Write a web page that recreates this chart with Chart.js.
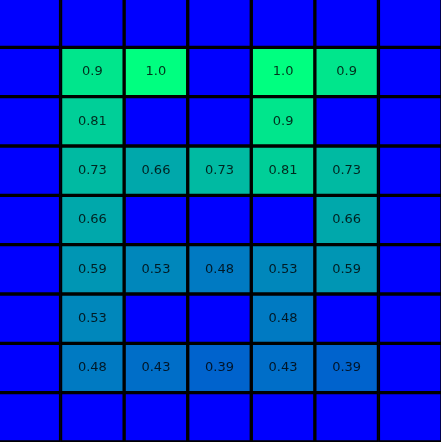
<!DOCTYPE html>
<html>
<head>
<meta charset="utf-8">
<script src="https://cdn.jsdelivr.net/npm/chart.js@4.4.1/dist/chart.umd.min.js"></script>
<style>
  html, body { margin: 0; padding: 0; background: #0000ff; overflow: hidden; }
  #grid { position: absolute; left: -3px; top: -2px; }
</style>
</head>
<body>
<canvas id="grid" width="445" height="444"></canvas>
<script>
// Columns (left to right)
const columns = ['c0', 'c1', 'c2', 'c3', 'c4', 'c5', 'c6'];

// Cell values, one array per row from top to bottom (null = empty cell)
const row0 = [null, null, null, null, null, null, null];
const row1 = [null, 0.9, 1.0, null, 1.0, 0.9, null];
const row2 = [null, 0.81, null, null, 0.9, null, null];
const row3 = [null, 0.73, 0.66, 0.73, 0.81, 0.73, null];
const row4 = [null, 0.66, null, null, null, 0.66, null];
const row5 = [null, 0.59, 0.53, 0.48, 0.53, 0.59, null];
const row6 = [null, 0.53, null, null, 0.48, null, null];
const row7 = [null, 0.48, 0.43, 0.39, 0.43, 0.39, null];
const row8 = [null, null, null, null, null, null, null];

const rows = [row0, row1, row2, row3, row4, row5, row6, row7, row8];

// matplotlib "winter" colormap, 0 -> blue, 1 -> spring green
function winter(v) {
  const t = v == null ? 0 : v;
  return `rgb(0, ${Math.round(255 * t)}, ${Math.round(255 * (1 - 0.5 * t))})`;
}

function formatValue(v) {
  return Number.isInteger(v) ? v.toFixed(1) : String(v);
}

// Draw the value text in the middle of each filled cell
const cellLabels = {
  id: 'cellLabels',
  afterDatasetsDraw(chart) {
    const ctx = chart.ctx;
    ctx.save();
    ctx.font = '13px "DejaVu Sans", sans-serif';
    ctx.fillStyle = 'rgba(0, 0, 0, 0.8)';
    ctx.textAlign = 'center';
    ctx.textBaseline = 'middle';
    chart.data.datasets.forEach((ds, di) => {
      const meta = chart.getDatasetMeta(di);
      meta.data.forEach((bar, i) => {
        const v = rows[di][i];
        if (v == null) return;
        const { x, y, base } = bar.getProps(['x', 'y', 'base'], true);
        ctx.fillText(formatValue(v), x, (y + base) / 2);
      });
    });
    ctx.restore();
  }
};

const ctx = document.getElementById('grid').getContext('2d');

new Chart(ctx, {
  type: 'bar',
  data: {
    labels: columns,
    datasets: rows.map((row, r) => ({
      label: `row${r}`,
      data: row.map(() => 1),
      backgroundColor: row.map(v => winter(v)),
      borderColor: '#000000',
      borderWidth: 2,
      borderSkipped: false,
      categoryPercentage: 1,
      barPercentage: 1
    }))
  },
  options: {
    responsive: false,
    animation: false,
    layout: { padding: 0 },
    plugins: {
      legend: { display: false },
      tooltip: { enabled: false }
    },
    scales: {
      x: { stacked: true, display: false },
      y: { stacked: true, display: false, min: 0, max: 9, reverse: true }
    }
  },
  plugins: [cellLabels]
});
</script>
</body>
</html>
